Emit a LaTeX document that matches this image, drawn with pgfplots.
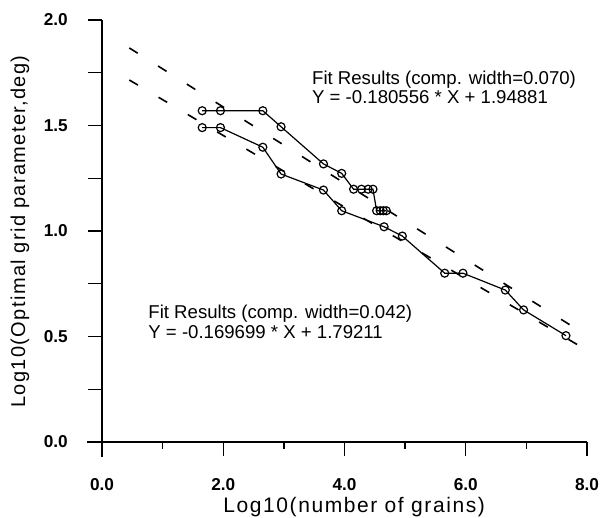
\documentclass[border=0pt]{standalone}
\usepackage{fontspec}
\setmainfont{Liberation Sans}
\newfontfamily\labfont{Liberation Sans}[LetterSpace=6.8]
\newfontfamily\xlabfont{Liberation Sans}[LetterSpace=7.5]
\usepackage{pgfplots}
\pgfplotsset{compat=1.18}

\begin{document}
\begin{tikzpicture}
\useasboundingbox (-51pt,-38pt) rectangle (251.5pt,221pt);
\begin{axis}[
  at={(0,0)}, anchor=south west,
  scale only axis, width=242.5pt, height=211pt,
  xmin=0, xmax=8, ymin=0, ymax=2,
  axis lines=left, axis line style={-, line width=0.7pt},
  tick align=outside, tick style={black, line width=0.7pt},
  xtick={0,2,4,6,8}, minor xtick={1,3,5,7},
  ytick={0,0.25,...,2},
  yticklabels={0.0,,0.5,,1.0,,1.5,,2.0},
  xticklabels={0.0,2.0,4.0,6.0,8.0},
  major tick length=7pt, minor tick length=3.5pt,
  xticklabel style={font=\bfseries\fontsize{8.6}{10}\selectfont, anchor=north, yshift=-7.5pt},
  yticklabel style={font=\bfseries\fontsize{8.6}{10}\selectfont, anchor=east, xshift=-6.6pt},
  xlabel={\xlabfont\fontsize{10.5}{12}\selectfont Log10(number of grains)},
  ylabel={\labfont\fontsize{10}{12}\selectfont Log10(Optimal grid parameter,deg)},
  xlabel style={at={(axis description cs:0.52,0)}, anchor=base, inner sep=0pt, yshift=-35.5pt},
  ylabel style={at={(axis description cs:-0.169,0.499)}, anchor=center},
  clip=false,
]
% fit lines
\addplot[black, line width=0.8pt, dash pattern=on 5pt off 12pt] coordinates {(0.45,1.8676) (8.0,0.5043)};
\addplot[black, line width=0.8pt, dash pattern=on 5pt off 12pt] coordinates {(0.45,1.7157) (8.0,0.4345)};
% upper series
\addplot[black, line width=0.6pt, mark=o, mark size=2pt, mark options={solid, line width=0.6pt}] coordinates {
(1.653,1.57) (1.954,1.57) (2.653,1.57) (2.954,1.494) (3.653,1.318) (3.954,1.273)
(4.15,1.198) (4.28,1.198) (4.39,1.198) (4.47,1.198)
(4.53,1.096) (4.59,1.096) (4.64,1.096) (4.69,1.096)};
% lower series
\addplot[black, line width=0.6pt, mark=o, mark size=2pt, mark options={solid, line width=0.6pt}] coordinates {
(1.653,1.49) (1.954,1.49) (2.653,1.397) (2.954,1.27) (3.653,1.194) (3.954,1.096)
(4.653,1.02) (4.954,0.976) (5.653,0.80) (5.954,0.80) (6.653,0.72) (6.954,0.626) (7.653,0.504)};
% axis extensions at origin
\draw[line width=0.7pt] (axis cs:0,0) -- ++(-7.5pt,0);
\draw[line width=0.7pt] (axis cs:0,0) -- ++(0,-7.5pt);
% annotations
\node[anchor=base west, font=\fontsize{9.3}{10}\selectfont, inner sep=0pt] at (axis cs:3.46,1.692) {Fit Results (comp. width=0.070)};
\node[anchor=base west, font=\fontsize{9.3}{10}\selectfont, inner sep=0pt] at (axis cs:3.46,1.602) {Y = -0.180556 * X + 1.94881};
\node[anchor=base west, font=\fontsize{9.3}{10}\selectfont, inner sep=0pt] at (axis cs:0.759,0.583) {Fit Results (comp. width=0.042)};
\node[anchor=base west, font=\fontsize{9.3}{10}\selectfont, inner sep=0pt] at (axis cs:0.759,0.4905) {Y = -0.169699 * X + 1.79211};
\end{axis}
\end{tikzpicture}
\end{document}
